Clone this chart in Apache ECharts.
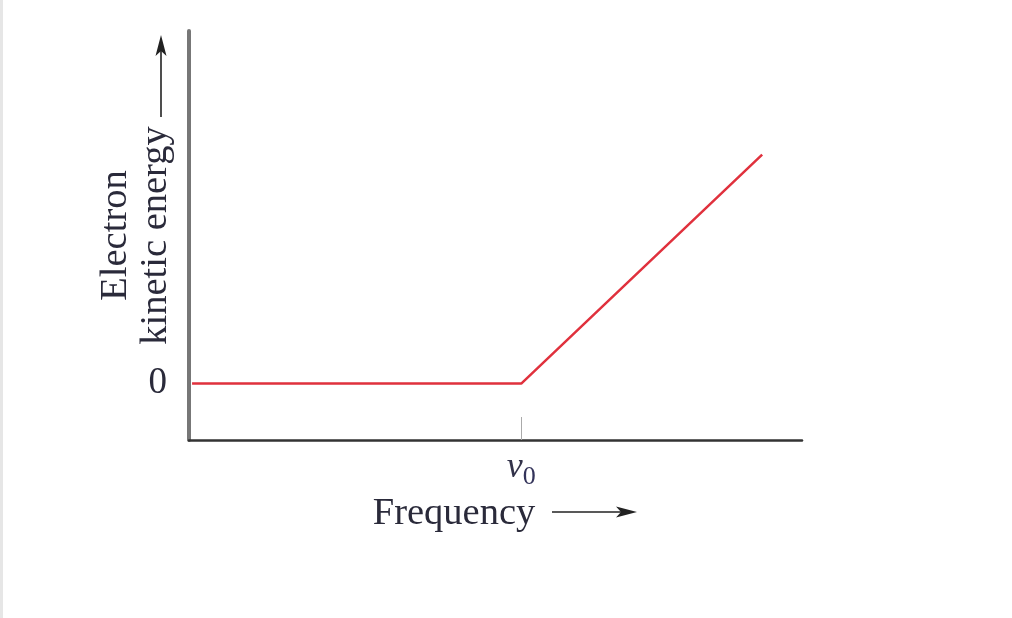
<!DOCTYPE html>
<html>
<head>
<meta charset="utf-8">
<script src="https://cdn.jsdelivr.net/npm/echarts@6/dist/echarts.min.js"></script>
<style>
  html, body { margin: 0; padding: 0; background: #fff; }
  #chart { width: 1012px; height: 618px; }
</style>
</head>
<body>
<div id="chart"></div>
<script>
// ---- data ----
const frequency = [0.5, 54.2, 93.5];       // x values (arbitrary units)
const kineticEnergy = [0, 0, 4.06];        // y values (arbitrary units)
const thresholdFrequency = 54.2;           // ν0
const yTickLabels = ['0'];
const xAxisTitle = 'Frequency';
const yAxisTitle = 'Electron\nkinetic energy';

const FONT = "'Liberation Serif', 'DejaVu Serif', serif";
const chart = echarts.init(document.getElementById('chart'), null, { renderer: 'canvas' });

const option = {
  backgroundColor: '#ffffff',
  animation: false,
  grid: { left: 189, right: 210, top: 31, bottom: 178, containLabel: false },
  xAxis: {
    type: 'value',
    min: 0, max: 100,
    splitLine: { show: false },
    axisLine: { show: true, onZero: false, lineStyle: { color: '#333', width: 2.5 } },
    axisTick: {
      show: true, inside: true, length: 23,
      customValues: [thresholdFrequency],
      lineStyle: { color: '#aaa', width: 1 }
    },
    axisLabel: {
      show: true,
      customValues: [thresholdFrequency],
      margin: 10,
      formatter: () => '{nu|ν}{sub|0}',
      rich: {
        nu: { fontFamily: FONT, fontStyle: 'italic', fontSize: 36, color: '#33334a', verticalAlign: 'bottom' },
        sub: { fontFamily: FONT, fontSize: 26, color: '#33335a', verticalAlign: 'bottom', padding: [0, 0, -4, 0] }
      }
    },
    name: xAxisTitle,
    nameLocation: 'middle',
    nameMoveOverlap: false,
    nameGap: 54,
    nameTextStyle: { fontFamily: FONT, fontSize: 38.5, color: '#2a2a3a', padding: [0, 83, 0, 0] }
  },
  yAxis: {
    type: 'value',
    min: -1, max: 6.25, interval: 1,
    splitLine: { show: false },
    axisLine: { show: true, onZero: false, lineStyle: { color: '#777', width: 4 } },
    axisTick: { show: false },
    axisLabel: {
      show: true,
      margin: 22,
      fontFamily: FONT, fontSize: 37, color: '#2a2a3a',
      formatter: (v) => (v === 0 ? yTickLabels[0] : '')
    },
    name: yAxisTitle,
    nameLocation: 'middle',
    nameMoveOverlap: false,
    nameRotate: 90,
    nameGap: 13,
    nameTextStyle: { fontFamily: FONT, fontSize: 38.5, color: '#2a2a3a', lineHeight: 40 }
  },
  series: [{
    type: 'line',
    data: frequency.map((f, i) => [f, kineticEnergy[i]]),
    symbol: 'none',
    lineStyle: { color: '#e0313d', width: 2.5 },
    z: 3
  }],
  graphic: [
    { type: 'rect', left: 0, top: 0, shape: { width: 3, height: 618 }, style: { fill: '#e6e6e6' }, silent: true },
    // y-direction arrow
    { type: 'line', shape: { x1: 161, y1: 117, x2: 161, y2: 50 }, style: { stroke: '#222', lineWidth: 1.6 }, silent: true },
    { type: 'polygon', shape: { points: [[161, 35], [155.5, 56], [161, 51], [166.5, 56]] }, style: { fill: '#222' }, silent: true },
    // x-direction arrow
    { type: 'line', shape: { x1: 552, y1: 512, x2: 622, y2: 512 }, style: { stroke: '#222', lineWidth: 1.6 }, silent: true },
    { type: 'polygon', shape: { points: [[637, 512], [616, 506.5], [621, 512], [616, 517.5]] }, style: { fill: '#222' }, silent: true }
  ]
};
chart.setOption(option);
</script>
</body>
</html>
